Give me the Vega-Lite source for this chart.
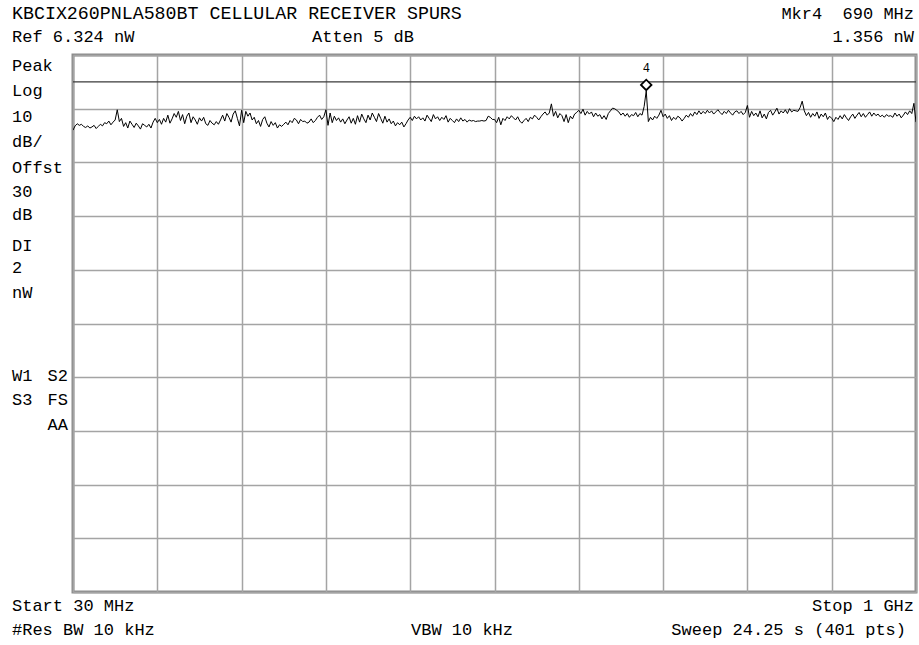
{
  "$schema": "https://vega.github.io/schema/vega-lite/v6.json",
  "width": 843,
  "height": 537,
  "autosize": {"type": "none"},
  "padding": {"left": 73, "top": 55, "right": 3, "bottom": 53},
  "background": "white",
  "config": {
    "view": {"stroke": "#8c8c8c", "strokeWidth": 3},
    "text": {"font": "Liberation Mono", "fontSize": 17, "fill": "#000000", "baseline": "middle"}
  },
  "datasets": {
    "trace": [
      {"f":30,"p":-66.0},{"f":32.425,"p":-65.2},{"f":34.85,"p":-64.8},{"f":37.275,"p":-65.1},{"f":39.7,"p":-64.9},{"f":42.125,"p":-65.3},{"f":44.55,"p":-65.5},{"f":46.975,"p":-65.2},{"f":49.4,"p":-65.6},{"f":51.825,"p":-65.4},
      {"f":54.25,"p":-65.1},{"f":56.675,"p":-65.7},{"f":59.1,"p":-65.3},{"f":61.525,"p":-64.9},{"f":63.95,"p":-65.2},{"f":66.375,"p":-64.6},{"f":68.8,"p":-64.8},{"f":71.225,"p":-64.3},{"f":73.65,"p":-65.0},{"f":76.075,"p":-64.5},
      {"f":78.5,"p":-64.1},{"f":80.925,"p":-62.2},{"f":83.35,"p":-64.4},{"f":85.775,"p":-63.8},{"f":88.2,"p":-65.3},{"f":90.625,"p":-64.6},{"f":93.05,"p":-65.6},{"f":95.475,"p":-64.3},{"f":97.9,"p":-64.9},{"f":100.325,"p":-65.5},
      {"f":102.75,"p":-64.7},{"f":105.175,"p":-65.2},{"f":107.6,"p":-65.8},{"f":110.025,"p":-64.8},{"f":112.45,"p":-65.1},{"f":114.875,"p":-65.4},{"f":117.3,"p":-64.9},{"f":119.725,"p":-65.6},{"f":122.15,"p":-64.5},{"f":124.575,"p":-63.8},
      {"f":127,"p":-64.6},{"f":129.425,"p":-64.0},{"f":131.85,"p":-64.9},{"f":134.275,"p":-63.8},{"f":136.7,"p":-64.5},{"f":139.125,"p":-63.2},{"f":141.55,"p":-64.7},{"f":143.975,"p":-63.9},{"f":146.4,"p":-62.9},{"f":148.825,"p":-63.6},
      {"f":151.25,"p":-62.5},{"f":153.675,"p":-64.2},{"f":156.1,"p":-63.1},{"f":158.525,"p":-64.8},{"f":160.95,"p":-63.4},{"f":163.375,"p":-62.8},{"f":165.8,"p":-64.6},{"f":168.225,"p":-63.5},{"f":170.65,"p":-64.1},{"f":173.075,"p":-64.9},
      {"f":175.5,"p":-63.7},{"f":177.925,"p":-64.3},{"f":180.35,"p":-63.6},{"f":182.775,"p":-64.8},{"f":185.2,"p":-65.1},{"f":187.625,"p":-64.2},{"f":190.05,"p":-64.7},{"f":192.475,"p":-65.0},{"f":194.9,"p":-64.4},{"f":197.325,"p":-64.9},
      {"f":199.75,"p":-64.1},{"f":202.175,"p":-63.2},{"f":204.6,"p":-64.3},{"f":207.025,"p":-62.9},{"f":209.45,"p":-63.6},{"f":211.875,"p":-64.5},{"f":214.3,"p":-63.0},{"f":216.725,"p":-62.4},{"f":219.15,"p":-63.8},{"f":221.575,"p":-65.2},
      {"f":224,"p":-62.3},{"f":226.425,"p":-64.6},{"f":228.85,"p":-62.5},{"f":231.275,"p":-63.4},{"f":233.7,"p":-62.8},{"f":236.125,"p":-64.1},{"f":238.55,"p":-63.6},{"f":240.975,"p":-64.8},{"f":243.4,"p":-64.2},{"f":245.825,"p":-65.3},
      {"f":248.25,"p":-64.0},{"f":250.675,"p":-63.5},{"f":253.1,"p":-64.7},{"f":255.525,"p":-65.4},{"f":257.95,"p":-64.4},{"f":260.375,"p":-65.1},{"f":262.8,"p":-64.6},{"f":265.225,"p":-65.6},{"f":267.65,"p":-65.0},{"f":270.075,"p":-65.3},
      {"f":272.5,"p":-64.9},{"f":274.925,"p":-64.5},{"f":277.35,"p":-65.0},{"f":279.775,"p":-64.2},{"f":282.2,"p":-64.6},{"f":284.625,"p":-63.8},{"f":287.05,"p":-64.1},{"f":289.475,"p":-64.8},{"f":291.9,"p":-64.0},{"f":294.325,"p":-64.4},
      {"f":296.75,"p":-64.3},{"f":299.175,"p":-64.7},{"f":301.6,"p":-64.5},{"f":304.025,"p":-63.9},{"f":306.45,"p":-64.6},{"f":308.875,"p":-64.2},{"f":311.3,"p":-63.6},{"f":313.725,"p":-63.2},{"f":316.15,"p":-64.0},{"f":318.575,"p":-63.5},
      {"f":321,"p":-62.2},{"f":323.425,"p":-65.1},{"f":325.85,"p":-62.8},{"f":328.275,"p":-64.6},{"f":330.7,"p":-63.4},{"f":333.125,"p":-64.2},{"f":335.55,"p":-63.7},{"f":337.975,"p":-64.5},{"f":340.4,"p":-63.9},{"f":342.825,"p":-64.8},
      {"f":345.25,"p":-64.1},{"f":347.675,"p":-63.5},{"f":350.1,"p":-64.7},{"f":352.525,"p":-63.8},{"f":354.95,"p":-64.9},{"f":357.375,"p":-63.3},{"f":359.8,"p":-64.5},{"f":362.225,"p":-63.0},{"f":364.65,"p":-63.9},{"f":367.075,"p":-64.6},
      {"f":369.5,"p":-63.2},{"f":371.925,"p":-64.1},{"f":374.35,"p":-62.8},{"f":376.775,"p":-63.6},{"f":379.2,"p":-64.4},{"f":381.625,"p":-62.9},{"f":384.05,"p":-63.8},{"f":386.475,"p":-64.7},{"f":388.9,"p":-63.4},{"f":391.325,"p":-64.5},
      {"f":393.75,"p":-63.9},{"f":396.175,"p":-64.8},{"f":398.6,"p":-64.3},{"f":401.025,"p":-65.2},{"f":403.45,"p":-64.6},{"f":405.875,"p":-65.0},{"f":408.3,"p":-64.5},{"f":410.725,"p":-65.4},{"f":413.15,"p":-64.8},{"f":415.575,"p":-64.1},
      {"f":418,"p":-63.6},{"f":420.425,"p":-64.2},{"f":422.85,"p":-63.4},{"f":425.275,"p":-63.9},{"f":427.7,"p":-63.5},{"f":430.125,"p":-64.1},{"f":432.55,"p":-63.7},{"f":434.975,"p":-64.3},{"f":437.4,"p":-63.2},{"f":439.825,"p":-63.8},
      {"f":442.25,"p":-64.4},{"f":444.675,"p":-63.1},{"f":447.1,"p":-63.9},{"f":449.525,"p":-63.5},{"f":451.95,"p":-64.2},{"f":454.375,"p":-63.6},{"f":456.8,"p":-64.0},{"f":459.225,"p":-63.3},{"f":461.65,"p":-64.5},{"f":464.075,"p":-63.8},
      {"f":466.5,"p":-64.2},{"f":468.925,"p":-64.6},{"f":471.35,"p":-63.9},{"f":473.775,"p":-64.4},{"f":476.2,"p":-63.7},{"f":478.625,"p":-64.3},{"f":481.05,"p":-64.0},{"f":483.475,"p":-64.5},{"f":485.9,"p":-64.1},{"f":488.325,"p":-64.3},
      {"f":490.75,"p":-64.2},{"f":493.175,"p":-64.4},{"f":495.6,"p":-64.3},{"f":498.025,"p":-64.3},{"f":500.45,"p":-64.2},{"f":502.875,"p":-64.3},{"f":505.3,"p":-64.2},{"f":507.725,"p":-63.4},{"f":510.15,"p":-63.6},{"f":512.575,"p":-64.0},
      {"f":515,"p":-64.0},{"f":517.425,"p":-64.6},{"f":519.85,"p":-63.6},{"f":522.275,"p":-65.0},{"f":524.7,"p":-63.8},{"f":527.125,"p":-64.2},{"f":529.55,"p":-63.5},{"f":531.975,"p":-63.9},{"f":534.4,"p":-63.3},{"f":536.825,"p":-63.7},
      {"f":539.25,"p":-64.1},{"f":541.675,"p":-63.5},{"f":544.1,"p":-64.3},{"f":546.525,"p":-64.7},{"f":548.95,"p":-64.2},{"f":551.375,"p":-63.8},{"f":553.8,"p":-64.4},{"f":556.225,"p":-63.6},{"f":558.65,"p":-63.9},{"f":561.075,"p":-63.2},
      {"f":563.5,"p":-63.6},{"f":565.925,"p":-64.1},{"f":568.35,"p":-63.5},{"f":570.775,"p":-63.0},{"f":573.2,"p":-62.6},{"f":575.625,"p":-63.2},{"f":578.05,"p":-62.8},{"f":580.475,"p":-61.1},{"f":582.9,"p":-63.4},{"f":585.325,"p":-62.5},
      {"f":587.75,"p":-63.7},{"f":590.175,"p":-62.9},{"f":592.6,"p":-63.3},{"f":595.025,"p":-64.4},{"f":597.45,"p":-63.1},{"f":599.875,"p":-64.6},{"f":602.3,"p":-63.4},{"f":604.725,"p":-63.9},{"f":607.15,"p":-63.0},{"f":609.575,"p":-62.7},
      {"f":612,"p":-62.3},{"f":614.425,"p":-62.9},{"f":616.85,"p":-62.1},{"f":619.275,"p":-63.2},{"f":621.7,"p":-62.5},{"f":624.125,"p":-63.0},{"f":626.55,"p":-62.6},{"f":628.975,"p":-63.5},{"f":631.4,"p":-62.8},{"f":633.825,"p":-63.4},
      {"f":636.25,"p":-63.1},{"f":638.675,"p":-63.9},{"f":641.1,"p":-63.3},{"f":643.525,"p":-64.0},{"f":645.95,"p":-62.9},{"f":648.375,"p":-62.4},{"f":650.8,"p":-61.9},{"f":653.225,"p":-62.0},{"f":655.65,"p":-62.3},{"f":658.075,"p":-62.6},
      {"f":660.5,"p":-63.2},{"f":662.925,"p":-62.8},{"f":665.35,"p":-63.4},{"f":667.775,"p":-62.9},{"f":670.2,"p":-63.6},{"f":672.625,"p":-63.1},{"f":675.05,"p":-63.3},{"f":677.475,"p":-62.7},{"f":679.9,"p":-63.5},{"f":682.325,"p":-62.9},
      {"f":684.75,"p":-63.2},{"f":687.175,"p":-61.6},{"f":689.6,"p":-58.7},{"f":692.025,"p":-64.4},{"f":694.45,"p":-63.6},{"f":696.875,"p":-64.1},{"f":699.3,"p":-63.4},{"f":701.725,"p":-63.8},{"f":704.15,"p":-63.2},{"f":706.575,"p":-62.3},
      {"f":709,"p":-63.5},{"f":711.425,"p":-63.0},{"f":713.85,"p":-63.8},{"f":716.275,"p":-63.3},{"f":718.7,"p":-64.2},{"f":721.125,"p":-63.6},{"f":723.55,"p":-64.0},{"f":725.975,"p":-63.4},{"f":728.4,"p":-63.7},{"f":730.825,"p":-64.3},
      {"f":733.25,"p":-63.8},{"f":735.675,"p":-63.2},{"f":738.1,"p":-63.6},{"f":740.525,"p":-62.9},{"f":742.95,"p":-63.4},{"f":745.375,"p":-62.6},{"f":747.8,"p":-63.1},{"f":750.225,"p":-62.4},{"f":752.65,"p":-63.0},{"f":755.075,"p":-62.5},
      {"f":757.5,"p":-62.9},{"f":759.925,"p":-62.3},{"f":762.35,"p":-62.8},{"f":764.775,"p":-62.4},{"f":767.2,"p":-63.0},{"f":769.625,"p":-62.6},{"f":772.05,"p":-62.2},{"f":774.475,"p":-62.7},{"f":776.9,"p":-63.1},{"f":779.325,"p":-62.5},
      {"f":781.75,"p":-62.9},{"f":784.175,"p":-62.3},{"f":786.6,"p":-62.8},{"f":789.025,"p":-63.2},{"f":791.45,"p":-62.6},{"f":793.875,"p":-62.4},{"f":796.3,"p":-62.9},{"f":798.725,"p":-62.5},{"f":801.15,"p":-63.1},{"f":803.575,"p":-62.7},
      {"f":806,"p":-61.4},{"f":808.425,"p":-63.6},{"f":810.85,"p":-62.5},{"f":813.275,"p":-63.3},{"f":815.7,"p":-62.8},{"f":818.125,"p":-63.5},{"f":820.55,"p":-62.4},{"f":822.975,"p":-63.7},{"f":825.4,"p":-63.0},{"f":827.825,"p":-63.9},
      {"f":830.25,"p":-62.7},{"f":832.675,"p":-62.3},{"f":835.1,"p":-63.2},{"f":837.525,"p":-62.6},{"f":839.95,"p":-61.9},{"f":842.375,"p":-63.0},{"f":844.8,"p":-62.4},{"f":847.225,"p":-62.8},{"f":849.65,"p":-62.2},{"f":852.075,"p":-62.9},
      {"f":854.5,"p":-62.0},{"f":856.925,"p":-62.6},{"f":859.35,"p":-62.3},{"f":861.775,"p":-62.4},{"f":864.2,"p":-62.5},{"f":866.625,"p":-61.8},{"f":869.05,"p":-60.6},{"f":871.475,"p":-62.4},{"f":873.9,"p":-63.3},{"f":876.325,"p":-62.7},
      {"f":878.75,"p":-63.6},{"f":881.175,"p":-62.9},{"f":883.6,"p":-63.4},{"f":886.025,"p":-62.6},{"f":888.45,"p":-63.8},{"f":890.875,"p":-63.0},{"f":893.3,"p":-63.5},{"f":895.725,"p":-62.8},{"f":898.15,"p":-64.0},{"f":900.575,"p":-63.4},
      {"f":903,"p":-63.8},{"f":905.425,"p":-64.4},{"f":907.85,"p":-63.6},{"f":910.275,"p":-64.0},{"f":912.7,"p":-63.3},{"f":915.125,"p":-63.9},{"f":917.55,"p":-63.1},{"f":919.975,"p":-63.7},{"f":922.4,"p":-64.2},{"f":924.825,"p":-63.5},
      {"f":927.25,"p":-63.0},{"f":929.675,"p":-63.8},{"f":932.1,"p":-63.2},{"f":934.525,"p":-62.7},{"f":936.95,"p":-63.5},{"f":939.375,"p":-62.9},{"f":941.8,"p":-63.6},{"f":944.225,"p":-63.1},{"f":946.65,"p":-62.6},{"f":949.075,"p":-63.4},
      {"f":951.5,"p":-62.8},{"f":953.925,"p":-63.3},{"f":956.35,"p":-63.0},{"f":958.775,"p":-63.5},{"f":961.2,"p":-63.2},{"f":963.625,"p":-63.6},{"f":966.05,"p":-63.1},{"f":968.475,"p":-63.4},{"f":970.9,"p":-63.3},{"f":973.325,"p":-63.6},
      {"f":975.75,"p":-62.8},{"f":978.175,"p":-63.4},{"f":980.6,"p":-63.0},{"f":983.025,"p":-63.7},{"f":985.45,"p":-63.2},{"f":987.875,"p":-62.6},{"f":990.3,"p":-63.1},{"f":992.725,"p":-62.4},{"f":995.15,"p":-62.9},{"f":997.575,"p":-61.0},
      {"f":1000,"p":-64.5}
    ],
    "marker": [{"f": 689.6, "p": -58.7, "label": "4"}],
    "one": [{}]
  },
  "layer": [
    {
      "data": {"name": "trace"},
      "mark": {"type": "line", "color": "#000000", "strokeWidth": 1, "clip": true},
      "encoding": {
        "x": {
          "field": "f", "type": "quantitative",
          "scale": {"domain": [30, 1000], "nice": false, "zero": false},
          "axis": {"values": [30,127,224,321,418,515,612,709,806,903,1000], "grid": true, "gridColor": "#a4a4a4", "gridWidth": 1.5, "labels": false, "ticks": false, "domain": false, "title": null}
        },
        "y": {
          "field": "p", "type": "quantitative",
          "scale": {"domain": [-152, -52], "nice": false, "zero": false},
          "axis": {"values": [-152,-142,-132,-122,-112,-102,-92,-82,-72,-62,-52], "grid": true, "gridColor": "#a4a4a4", "gridWidth": 1.5, "labels": false, "ticks": false, "domain": false, "title": null}
        }
      }
    },
    {
      "data": {"name": "one"},
      "mark": {"type": "rule", "color": "#3a3a3a", "strokeWidth": 1.2},
      "encoding": {"y": {"datum": -57}}
    },
    {
      "data": {"name": "marker"},
      "mark": {"type": "point", "shape": "diamond", "size": 110, "filled": false, "fill": "white", "fillOpacity": 1, "stroke": "#000000", "strokeWidth": 1.8, "yOffset": -6, "opacity": 1},
      "encoding": {"x": {"field": "f", "type": "quantitative"}, "y": {"field": "p", "type": "quantitative"}}
    },
    {
      "data": {"name": "marker"},
      "mark": {"type": "text", "fontSize": 12, "yOffset": -23, "align": "center"},
      "encoding": {"x": {"field": "f", "type": "quantitative"}, "y": {"field": "p", "type": "quantitative"}, "text": {"field": "label"}}
    },
    {"data": {"name": "one"}, "mark": {"type": "text", "text": "KBCIX260PNLA580BT CELLULAR RECEIVER SPURS", "align": "left", "fontSize": 18.3}, "encoding": {"x": {"datum": -40.19}, "y": {"datum": -44.37}}},
    {"data": {"name": "one"}, "mark": {"type": "text", "text": "Ref 6.324 nW", "align": "left"}, "encoding": {"x": {"datum": -40.19}, "y": {"datum": -48.65}}},
    {"data": {"name": "one"}, "mark": {"type": "text", "text": "Atten 5 dB", "align": "left"}, "encoding": {"x": {"datum": 305.0}, "y": {"datum": -48.65}}},
    {"data": {"name": "one"}, "mark": {"type": "text", "text": "Mkr4\u00a0\u00a0690 MHz", "align": "right"}, "encoding": {"x": {"datum": 997.7}, "y": {"datum": -44.37}}},
    {"data": {"name": "one"}, "mark": {"type": "text", "text": "1.356 nW", "align": "right"}, "encoding": {"x": {"datum": 997.7}, "y": {"datum": -48.65}}},
    {"data": {"name": "one"}, "mark": {"type": "text", "text": "Peak", "align": "left"}, "encoding": {"x": {"datum": -40.19}, "y": {"datum": -54.05}}},
    {"data": {"name": "one"}, "mark": {"type": "text", "text": "Log", "align": "left"}, "encoding": {"x": {"datum": -40.19}, "y": {"datum": -58.70}}},
    {"data": {"name": "one"}, "mark": {"type": "text", "text": "10", "align": "left"}, "encoding": {"x": {"datum": -40.19}, "y": {"datum": -63.55}}},
    {"data": {"name": "one"}, "mark": {"type": "text", "text": "dB/", "align": "left"}, "encoding": {"x": {"datum": -40.19}, "y": {"datum": -68.20}}},
    {"data": {"name": "one"}, "mark": {"type": "text", "text": "Offst", "align": "left"}, "encoding": {"x": {"datum": -40.19}, "y": {"datum": -73.04}}},
    {"data": {"name": "one"}, "mark": {"type": "text", "text": "30", "align": "left"}, "encoding": {"x": {"datum": -40.19}, "y": {"datum": -77.51}}},
    {"data": {"name": "one"}, "mark": {"type": "text", "text": "dB", "align": "left"}, "encoding": {"x": {"datum": -40.19}, "y": {"datum": -81.80}}},
    {"data": {"name": "one"}, "mark": {"type": "text", "text": "DI", "align": "left"}, "encoding": {"x": {"datum": -40.19}, "y": {"datum": -87.57}}},
    {"data": {"name": "one"}, "mark": {"type": "text", "text": "2", "align": "left"}, "encoding": {"x": {"datum": -40.19}, "y": {"datum": -91.66}}},
    {"data": {"name": "one"}, "mark": {"type": "text", "text": "nW", "align": "left"}, "encoding": {"x": {"datum": -40.19}, "y": {"datum": -96.32}}},
    {"data": {"name": "one"}, "mark": {"type": "text", "text": "W1", "align": "left"}, "encoding": {"x": {"datum": -40.19}, "y": {"datum": -111.78}}},
    {"data": {"name": "one"}, "mark": {"type": "text", "text": "S2", "align": "right"}, "encoding": {"x": {"datum": 24.25}, "y": {"datum": -111.78}}},
    {"data": {"name": "one"}, "mark": {"type": "text", "text": "S3", "align": "left"}, "encoding": {"x": {"datum": -40.19}, "y": {"datum": -116.25}}},
    {"data": {"name": "one"}, "mark": {"type": "text", "text": "FS", "align": "right"}, "encoding": {"x": {"datum": 24.25}, "y": {"datum": -116.25}}},
    {"data": {"name": "one"}, "mark": {"type": "text", "text": "AA", "align": "right"}, "encoding": {"x": {"datum": 24.25}, "y": {"datum": -120.90}}},
    {"data": {"name": "one"}, "mark": {"type": "text", "text": "Start 30 MHz", "align": "left"}, "encoding": {"x": {"datum": -40.19}, "y": {"datum": -154.61}}},
    {"data": {"name": "one"}, "mark": {"type": "text", "text": "Stop 1 GHz", "align": "right"}, "encoding": {"x": {"datum": 997.7}, "y": {"datum": -154.61}}},
    {"data": {"name": "one"}, "mark": {"type": "text", "text": "#Res BW 10 kHz", "align": "left"}, "encoding": {"x": {"datum": -40.19}, "y": {"datum": -159.08}}},
    {"data": {"name": "one"}, "mark": {"type": "text", "text": "VBW 10 kHz", "align": "left"}, "encoding": {"x": {"datum": 418.9}, "y": {"datum": -159.08}}},
    {"data": {"name": "one"}, "mark": {"type": "text", "text": "Sweep 24.25 s (401 pts)", "align": "right"}, "encoding": {"x": {"datum": 988.49}, "y": {"datum": -159.08}}}
  ]
}
